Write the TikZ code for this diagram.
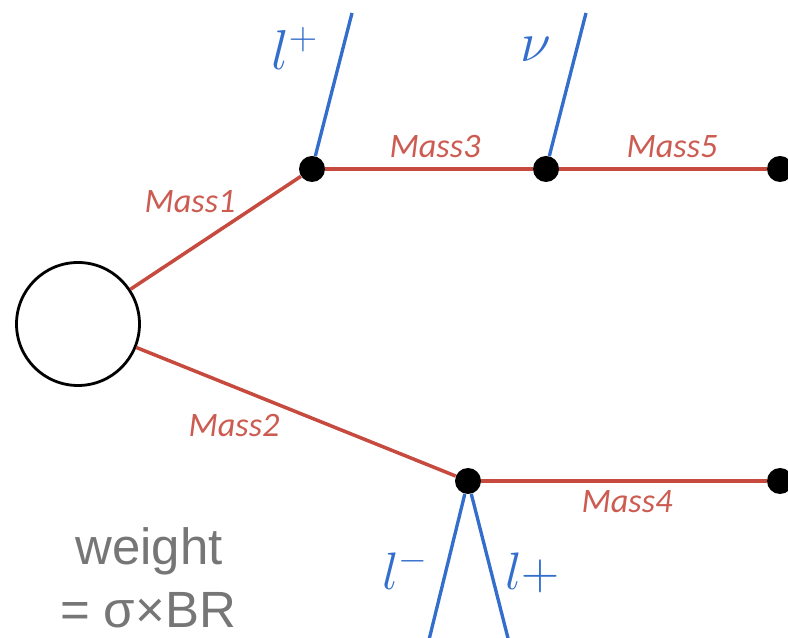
\documentclass[tikz,border=0pt]{standalone}
\usepackage{fix-cm}
\usepackage{fontspec}
\newfontfamily\labelfont{Carlito}
\newfontfamily\notefont{Liberation Sans}
\usepackage{tikz}
\usetikzlibrary{positioning}
\definecolor{propred}{RGB}{198,74,62}
\definecolor{labred}{RGB}{204,92,82}
\definecolor{lepblue}{RGB}{52,110,204}
\definecolor{notegray}{RGB}{118,118,118}

\begin{document}
\begin{tikzpicture}[
  vtx/.style={circle,fill=black,minimum size=0.52cm,inner sep=0pt},
  blob/.style={circle,draw,line width=1.6pt,minimum size=2.46cm,inner sep=0pt},
  prop/.style={draw=propred,line width=2pt},
  lep/.style={draw=lepblue,line width=1.9pt},
  mass/.style={anchor=base,text=labred,font=\labelfont\itshape\fontsize{19.5}{21}\selectfont},
  leplab/.style={anchor=base west,inner sep=0pt,text=lepblue,font=\fontsize{32}{34}\selectfont},
  note/.style={anchor=base,text=notegray,font=\notefont\fontsize{29}{31}\selectfont}
]
  \useasboundingbox (0,0) rectangle (15.76,12.76);
  \clip (0,0) rectangle (15.76,12.76);

  % vertices of the decay tree
  \node[blob] (src) at (1.56,6.28) {};
  \node[vtx] (v1) at (6.24,9.38) {};
  \node[vtx] (v3) at (10.92,9.38) {};
  \node[vtx] (v5) at (15.60,9.38) {};
  \node[vtx] (v2) at (9.36,3.14) {};
  \node[vtx] (v4) at (15.60,3.14) {};

  % free ends of the leptons
  \coordinate (lpend) at (7.04,12.50);
  \coordinate (nuend) at (11.72,12.50);
  \coordinate (lmend) at (8.53,-0.24);
  \coordinate (lqend) at (10.22,-0.24);

  \draw[prop] (src) -- (v1);
  \draw[prop] (v1) -- (v3);
  \draw[prop] (v3) -- (v5);
  \draw[prop] (src) -- (v2);
  \draw[prop] (v2) -- (v4);

  \draw[lep] (v1) -- (lpend);
  \draw[lep] (v3) -- (nuend);
  \draw[lep] (v2) -- (lmend);
  \draw[lep] (v2) -- (lqend);

  \node[mass] (m1) at (3.80,8.50) {Mass1};
  \node[mass] (m3) at (8.70,9.60) {Mass3};
  \node[mass] (m5) at (13.44,9.60) {Mass5};
  \node[mass] (m2) at (4.68,4.02) {Mass2};
  \node[mass] (m4) at (12.54,2.50) {Mass4};

  \node[leplab] (lp) at (5.42,11.36) {$l^+$};
  \node[leplab] (nu) at (10.40,11.52) {$\nu$};
  \node[leplab,font=\fontsize{30}{32}\selectfont] (lm) at (7.64,0.96) {$l^-$};
  \node[leplab,font=\fontsize{30}{32}\selectfont] (lq) at (10.10,0.96) {$l+$};

  \node[note] (wt) at (2.98,1.46) {weight};
  \node[note] (br) at (2.96,0.20) {= σ×BR};
\end{tikzpicture}
\end{document}
